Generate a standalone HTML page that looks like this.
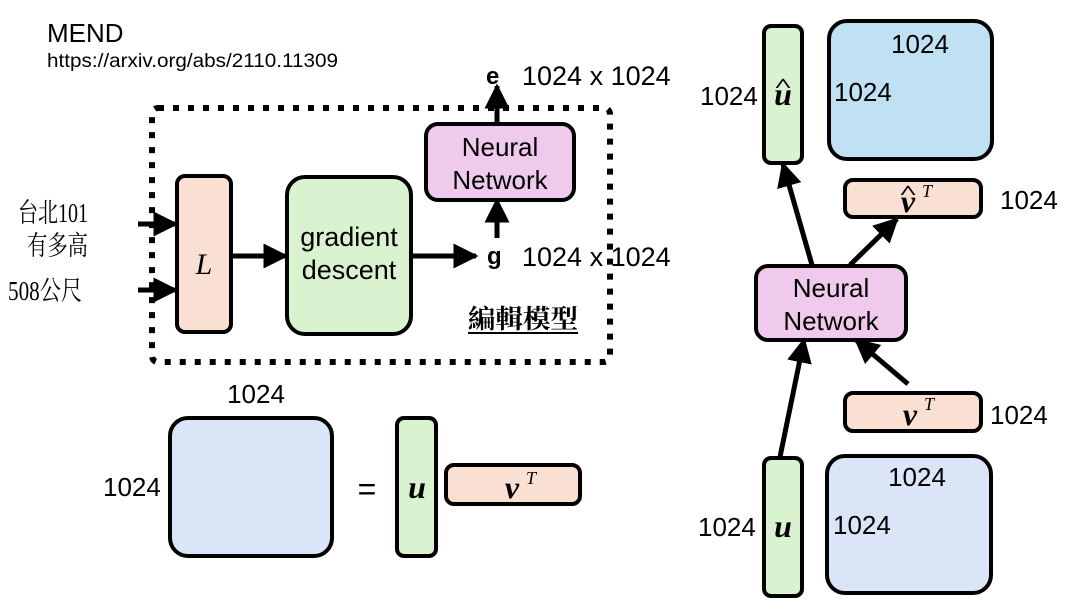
<!DOCTYPE html>
<html><head><meta charset="utf-8"><style>
html,body{margin:0;padding:0;background:#fff;}
svg{display:block;}
text{font-family:"Liberation Sans",sans-serif;fill:#000;}
.s{font-family:"Liberation Serif","Noto Serif CJK SC",serif;}
.m{font-family:"Liberation Serif",serif;font-weight:bold;font-style:italic;}
</style></head><body>
<svg width="1080" height="613" viewBox="0 0 1080 613" xmlns="http://www.w3.org/2000/svg">
<defs>
<marker id="a" markerWidth="5" markerHeight="5" refX="4.5" refY="2.5" orient="auto" markerUnits="strokeWidth">
<path d="M0,0 L5,2.5 L0,5 z" fill="#000"/></marker>
</defs>
<text x="47" y="42" font-size="26">MEND</text>
<text x="47" y="67" font-size="19" textLength="291" lengthAdjust="spacingAndGlyphs">https://arxiv.org/abs/2110.11309</text>
<rect x="152" y="108" width="458" height="254" rx="6" fill="none" stroke="#000" stroke-width="6" stroke-dasharray="6 9"/>
<rect x="177" y="176" width="54" height="156" rx="8" fill="#f9e0d2" stroke="#000" stroke-width="4"/>
<text x="204" y="274" font-size="30" class="s" font-style="italic" text-anchor="middle">L</text>
<rect x="287" y="177" width="124" height="157" rx="18" fill="#d9f2d0" stroke="#000" stroke-width="4"/>
<text x="349" y="246" font-size="27" text-anchor="middle">gradient</text>
<text x="349" y="279" font-size="27" text-anchor="middle">descent</text>
<rect x="426" y="124" width="148" height="76" rx="12" fill="#efcaec" stroke="#000" stroke-width="4"/>
<text x="500" y="156" font-size="26" text-anchor="middle">Neural</text>
<text x="500" y="189" font-size="26" text-anchor="middle">Network</text>
<g stroke="#000" stroke-width="5" fill="none" marker-end="url(#a)">
<line x1="138" y1="224" x2="176" y2="224"/>
<line x1="138" y1="290" x2="176" y2="290"/>
<line x1="232" y1="256" x2="286" y2="256"/>
<line x1="412" y1="256" x2="476" y2="256"/>
<line x1="497" y1="238" x2="497" y2="200"/>
<line x1="497" y1="124" x2="497" y2="86"/>
</g>
<text x="486" y="84" font-size="24" font-weight="bold">e</text>
<text x="522" y="85" font-size="27">1024 x 1024</text>
<text x="487" y="264" font-size="24" font-weight="bold">g</text>
<text x="522" y="266" font-size="27">1024 x 1024</text>
<text x="18" y="222" font-size="27" class="s" textLength="70" lengthAdjust="spacingAndGlyphs">台北101</text>
<text x="27" y="255" font-size="27" class="s" textLength="61" lengthAdjust="spacingAndGlyphs">有多高</text>
<text x="8" y="300" font-size="27" class="s" textLength="74" lengthAdjust="spacingAndGlyphs">508公尺</text>
<text x="468" y="328" font-size="26" class="s" font-weight="bold" textLength="110" lengthAdjust="spacingAndGlyphs">編輯模型</text>
<line x1="468" y1="333" x2="578" y2="333" stroke="#000" stroke-width="2"/>
<text x="256" y="403" font-size="26" text-anchor="middle">1024</text>
<rect x="170" y="418" width="162" height="138" rx="18" fill="#dae6f7" stroke="#000" stroke-width="4"/>
<text x="103" y="496" font-size="26">1024</text>
<text x="367" y="500" font-size="32" text-anchor="middle">=</text>
<rect x="397" y="418" width="39" height="138" rx="7" fill="#d9f2d0" stroke="#000" stroke-width="4"/>
<text x="417" y="498" font-size="32" class="m" text-anchor="middle">u</text>
<rect x="446" y="465" width="134" height="39" rx="8" fill="#f9e0d2" stroke="#000" stroke-width="4"/>
<text x="512" y="498" font-size="32" class="m" text-anchor="middle">v</text>
<text x="526" y="484" font-size="18" class="s" font-style="italic">T</text>
<rect x="764" y="26" width="38" height="137" rx="7" fill="#d9f2d0" stroke="#000" stroke-width="4"/>
<text x="783" y="105" font-size="32" class="m" text-anchor="middle">u</text>
<text x="783" y="92" font-size="20" class="s" font-weight="bold" text-anchor="middle" transform="translate(783 0) scale(1.6 1) translate(-783 0)">^</text>
<text x="700" y="105" font-size="26">1024</text>
<rect x="829" y="21" width="163" height="138" rx="18" fill="#c0e1f4" stroke="#000" stroke-width="4"/>
<text x="920" y="53" font-size="26" text-anchor="middle">1024</text>
<text x="834" y="101" font-size="26">1024</text>
<rect x="845" y="180" width="136" height="37" rx="8" fill="#f9e0d2" stroke="#000" stroke-width="4"/>
<text x="908" y="212" font-size="32" class="m" text-anchor="middle">v</text>
<text x="908" y="199" font-size="20" class="s" font-weight="bold" text-anchor="middle" transform="translate(908 0) scale(1.6 1) translate(-908 0)">^</text>
<text x="922" y="197" font-size="18" class="s" font-style="italic">T</text>
<text x="1000" y="209" font-size="26">1024</text>
<rect x="756" y="266" width="150" height="74" rx="12" fill="#efcaec" stroke="#000" stroke-width="4"/>
<text x="831" y="297" font-size="26" text-anchor="middle">Neural</text>
<text x="831" y="330" font-size="26" text-anchor="middle">Network</text>
<rect x="845" y="393" width="136" height="38" rx="8" fill="#f9e0d2" stroke="#000" stroke-width="4"/>
<text x="910" y="425" font-size="32" class="m" text-anchor="middle">v</text>
<text x="924" y="410" font-size="18" class="s" font-style="italic">T</text>
<text x="990" y="424" font-size="26">1024</text>
<rect x="764" y="458" width="38" height="138" rx="7" fill="#d9f2d0" stroke="#000" stroke-width="4"/>
<text x="783" y="537" font-size="32" class="m" text-anchor="middle">u</text>
<text x="698" y="536" font-size="26">1024</text>
<rect x="827" y="456" width="164" height="137" rx="18" fill="#dae6f7" stroke="#000" stroke-width="4"/>
<text x="917" y="486" font-size="26" text-anchor="middle">1024</text>
<text x="833" y="534" font-size="26">1024</text>
<g stroke="#000" stroke-width="5" fill="none" marker-end="url(#a)">
<line x1="780" y1="457" x2="804" y2="340"/>
<line x1="812" y1="265" x2="783" y2="164"/>
<line x1="850" y1="265" x2="897" y2="219"/>
<line x1="908" y1="384" x2="856" y2="340"/>
</g>
</svg>
</body></html>
